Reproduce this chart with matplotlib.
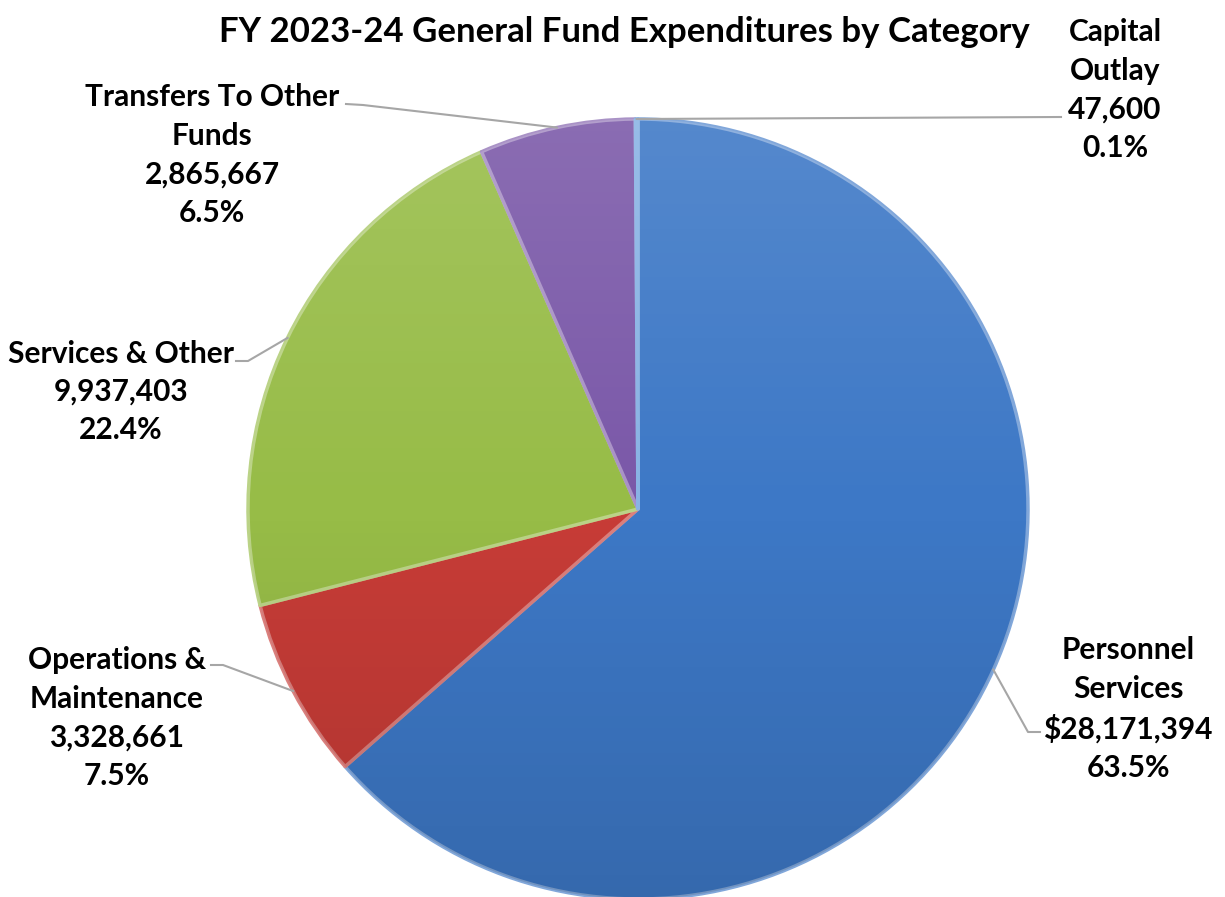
import numpy as np
import matplotlib.pyplot as plt
from matplotlib.patches import Circle
from matplotlib.colors import to_rgb

# data
categories = ["Personnel\nServices", "Operations &\nMaintenance", "Services & Other",
              "Transfers To Other\nFunds", "Capital\nOutlay"]
amounts = [28171394, 3328661, 9937403, 2865667, 47600]
amount_labels = ["$28,171,394", "3,328,661", "9,937,403", "2,865,667", "47,600"]
colors = ["#3d78c6", "#c73c37", "#97bc47", "#7a58a8", "#4a8ad6"]
title = "FY 2023-24 General Fund Expenditures by Category"

W, H = 1225, 897
fig = plt.figure(figsize=(W / 100, H / 100), dpi=100)
ax = fig.add_axes([0, 0, 1, 1])

plt.rcParams["font.family"] = ["Lato", "DejaVu Sans"]


def py(y):
    # pixel row from top -> data y
    return H - y


cx, cy, r = 638, py(509), 390

wedges, _ = ax.pie(amounts, colors=colors, startangle=90, counterclock=False,
                   center=(cx, cy), radius=r, frame=True)

# light bevel along each wedge edge
for w, c in zip(wedges, colors):
    light = tuple(min(1, v * 0.65 + 0.35) for v in to_rgb(c))
    w.set_edgecolor(light)
    w.set_linewidth(2.5)
    w.set_joinstyle("round")

# shading gradient over the whole pie
grad = np.linspace(0, 1, 256).reshape(-1, 1)
shade = np.zeros((256, 1, 4))
shade[..., 0:3] = np.where(grad[..., None] < 0.5, 1.0, 0.0)
shade[..., 3] = np.abs(grad - 0.5) * 0.25
clip = Circle((cx, cy), r, transform=ax.transData)
img = ax.imshow(shade, extent=(cx - r, cx + r, cy - r, cy + r), origin="upper",
                aspect="auto", zorder=3, interpolation="bilinear")
img.set_clip_path(clip)

ax.set_xlim(0, W)
ax.set_ylim(0, H)
ax.set_aspect("equal")
ax.axis("off")

# label positions (pixel coords) and leader elbows
text_pos = [(1128, 709), (117, 718), (121, 392), (212, 155), (1115, 90)]
elbows = [[(1028, 732), (1040, 732)],
          [(223, 665), (211, 665)],
          [(248, 361), (236, 361)],
          [(363, 105), (346, 104)],
          [(1061, 117)]]

total = sum(amounts)
for w, cat, amt, lab, (tx, ty), el in zip(wedges, categories, amounts, amount_labels,
                                         text_pos, elbows):
    mid = np.deg2rad((w.theta1 + w.theta2) / 2)
    sx, sy = cx + r * np.cos(mid), cy + r * np.sin(mid)
    xs = [sx] + [p[0] for p in el]
    ys = [sy] + [py(p[1]) for p in el]
    ax.plot(xs, ys, color="#a6a6a6", lw=1.5, zorder=4)
    ax.text(tx, py(ty), f"{cat}\n{lab}\n{amt / total * 100:.1f}%", ha="center",
            va="center", fontsize=21.5, fontweight="bold", linespacing=1.45, zorder=5)

ax.text(624, py(32), title, ha="center", va="center", fontsize=25,
        fontweight="bold")

fig.savefig("out.png", dpi=100)
